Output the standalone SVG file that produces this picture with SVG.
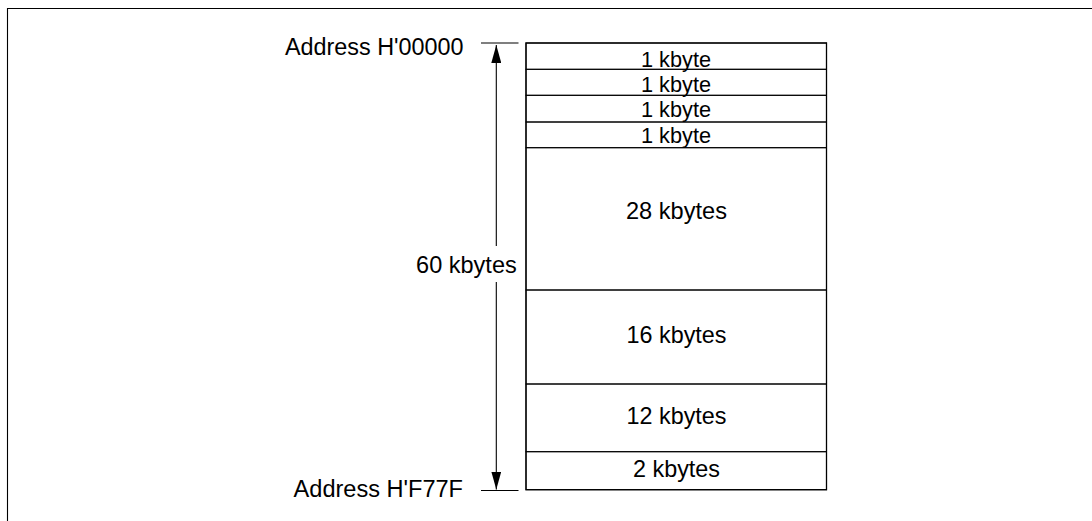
<svg xmlns="http://www.w3.org/2000/svg" width="1092" height="521" viewBox="0 0 1092 521">
<style>
text{font-family:"Liberation Sans",Arial,sans-serif;fill:#000}
.lbl{font-size:23.8px;text-anchor:middle}
.small{font-size:22.5px;text-anchor:middle}
.addr{font-size:24.4px;text-anchor:end}
.cell{fill:none;stroke:#000;stroke-width:1}
.ln{stroke:#000;stroke-width:1.1;fill:none}
</style>
<defs>
<marker id="ah" viewBox="0 0 18 10" refX="18" refY="5" markerWidth="18" markerHeight="10" markerUnits="userSpaceOnUse" orient="auto">
<path d="M0,0 L18,5 L0,10 Z" fill="#000"/>
</marker>
</defs>
<rect width="1092" height="521" fill="#fff"/>
<path d="M7.5,521 V8.5 H1092" class="ln" stroke-width="1.3"/>
<g id="memory">
<g id="r1"><rect x="526" y="43" width="300.5" height="26.3" class="cell"/><text class="small" x="676" y="66.5" textLength="70" lengthAdjust="spacingAndGlyphs">1 kbyte</text></g>
<g id="r2"><rect x="526" y="69.3" width="300.5" height="26" class="cell"/><text class="small" x="676" y="92.3" textLength="70" lengthAdjust="spacingAndGlyphs">1 kbyte</text></g>
<g id="r3"><rect x="526" y="95.3" width="300.5" height="26.7" class="cell"/><text class="small" x="676" y="116.5" textLength="70" lengthAdjust="spacingAndGlyphs">1 kbyte</text></g>
<g id="r4"><rect x="526" y="122" width="300.5" height="25.7" class="cell"/><text class="small" x="676" y="142.5" textLength="70" lengthAdjust="spacingAndGlyphs">1 kbyte</text></g>
<g id="r5"><rect x="526" y="147.7" width="300.5" height="142.3" class="cell"/><text class="lbl" x="676.5" y="219" textLength="101" lengthAdjust="spacingAndGlyphs">28 kbytes</text></g>
<g id="r6"><rect x="526" y="290" width="300.5" height="94" class="cell"/><text class="lbl" x="676.5" y="342.7" textLength="100" lengthAdjust="spacingAndGlyphs">16 kbytes</text></g>
<g id="r7"><rect x="526" y="384" width="300.5" height="67.7" class="cell"/><text class="lbl" x="676.5" y="424.3" textLength="100" lengthAdjust="spacingAndGlyphs">12 kbytes</text></g>
<g id="r8"><rect x="526" y="451.7" width="300.5" height="38" class="cell"/><text class="lbl" x="676.5" y="476.7" textLength="87" lengthAdjust="spacingAndGlyphs">2 kbytes</text></g>
<rect x="526" y="43" width="300.5" height="446.7" fill="none" stroke="#000" stroke-width="1.3"/>
</g>
<g id="addr-top"><text class="addr" x="463.5" y="55" textLength="178.6" lengthAdjust="spacingAndGlyphs">Address H'00000</text></g>
<g id="addr-bottom"><text class="addr" x="463" y="497.3" textLength="169.4" lengthAdjust="spacingAndGlyphs">Address H'F77F</text></g>
<g id="size"><text class="lbl" x="466.4" y="273.3" textLength="100.7" lengthAdjust="spacingAndGlyphs">60 kbytes</text></g>
<g id="connectors">
<line x1="481" y1="43" x2="518.5" y2="43" class="ln"/>
<line x1="481" y1="490.5" x2="518.5" y2="490.5" class="ln"/>
<line x1="496.3" y1="246" x2="496.3" y2="45" class="ln" marker-end="url(#ah)"/>
<line x1="496.3" y1="282" x2="496.3" y2="489.5" class="ln" marker-end="url(#ah)"/>
</g>
</svg>
